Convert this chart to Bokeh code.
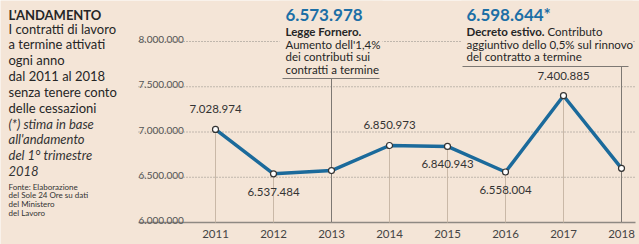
from bokeh.plotting import figure
from bokeh.models import Range1d
from bokeh.embed import file_html
from bokeh.resources import INLINE
from bokeh.core.properties import value

# ---------------- data ----------------
years = [2011, 2012, 2013, 2014, 2015, 2016, 2017, 2018]
contracts = [7028974, 6537484, 6573978, 6850973, 6840943, 6558004, 7400885, 6598644]
label_side = ["above", "below", None, "above", "below", "below", "above", None]
y_ticks = [6000000, 6500000, 7000000, 7500000, 8000000]
grid_ticks = [6500000, 7000000, 7500000, 8000000]
year_labels = [str(y) for y in years]


def it_fmt(v):
    return f"{v:,}".replace(",", ".")


value_labels = [it_fmt(v) for v in contracts]
y_tick_labels = [it_fmt(v) for v in y_ticks]

title_lines = ["L'ANDAMENTO"]
body_lines = ["I contratti di lavoro", "a termine attivati", "ogni anno",
              "dal 2011 al 2018", "senza tenere conto", "delle cessazioni"]
note_lines = ["(*) stima in base", "all'andamento", "del 1° trimestre", "2018"]
source_lines = ["Fonte: Elaborazione", "del Sole 24 Ore su dati", "del Ministero", "del Lavoro"]

ann1_head = "Legge Fornero."
ann1_lines = ["Aumento dell'1,4%", "dei contributi sui", "contratti a termine"]
ann2_head = "Decreto estivo."
ann2_first = "Contributo"
ann2_lines = ["aggiuntivo dello 0,5% sul rinnovo", "del contratto a termine"]

# ---------------- layout / styles ----------------
BG = "#f4e5d7"
BLUE = "#1b6a9b"
NUM_BLUE = "#1c6fa6"
TXT = "#262626"
FONT = "Lato"

W, H = 639, 244
SX = (621 - 215) / 7.0       # px per year
SY = 90.5 / 1e6              # px per contract
YB = y_ticks[0]
P_LEFT, P_RIGHT = 138, 635   # plotting area horizontal extent (px)


def dx(px):
    return years[0] + (px - 215) / SX


def dy(py):
    return YB + (222 - py) / SY


p = figure(width=W, height=H, output_backend="svg", toolbar_location=None,
           x_range=Range1d(dx(0), dx(W)), y_range=Range1d(dy(H), dy(0)),
           x_axis_location=None, y_axis_location=None,
           min_border=0)
p.background_fill_color = BG
p.border_fill_color = BG
p.outline_line_color = None
p.grid.visible = False


def txt(xs, ys, texts, size, style="normal", color=TXT, align="left",
        baseline="middle", x_off=0, y_off=0):
    p.text(x=xs, y=ys, text=texts, text_font=value(FONT), text_font_size=size,
           text_font_style=style, text_color=color, text_align=align,
           text_baseline=baseline, x_offset=x_off, y_offset=y_off)


# dotted gridlines
p.segment(x0=[dx(P_LEFT)] * len(grid_ticks), y0=grid_ticks,
          x1=[dx(P_RIGHT)] * len(grid_ticks), y1=grid_ticks,
          line_color="#8d8882", line_dash="1 2", line_width=1)

# masks behind annotation texts (hide gridline)
p.quad(left=[dx(279), dx(461)], right=[dx(382), dx(632)],
       top=[dy(0), dy(0)], bottom=[dy(77), dy(65)],
       fill_color=BG, line_color=None)

# x axis base line
p.segment(x0=[dx(P_LEFT)], y0=[YB], x1=[dx(P_RIGHT)], y1=[YB],
          line_color="#8e8983", line_width=1.5)

# y tick labels sitting on the gridlines
txt([dx(P_LEFT)] * len(y_ticks), y_ticks, y_tick_labels, "10px",
    color="#555555", baseline="alphabetic", y_off=-2)

# year labels
txt(years, [YB] * len(years), year_labels, "11.5px", color="#444444",
    align="center", y_off=11)

# thin vertical lines from the axis to each point
p.segment(x0=years, y0=[YB] * len(years), x1=years, y1=contracts,
          line_color="#c9b8a7", line_width=1)

# annotation leader lines
i13 = years.index(2013)
i18 = years.index(2018)
p.segment(x0=[years[i13], years[i18], dx(282), dx(462)],
          y0=[YB, YB, dy(78), dy(66)],
          x1=[years[i13], years[i18], dx(379), dx(628)],
          y1=[dy(78), dy(66), dy(78), dy(66)],
          line_color="#7d7873", line_width=1)

# main line
p.line(years, contracts, line_color=BLUE, line_width=3.5, line_join="round")
p.scatter(years, contracts, size=6, fill_color="white", line_color="#333333", line_width=1.2)

# point value labels
for yr, v, lab, side in zip(years, contracts, value_labels, label_side):
    if side is None:
        continue
    off = -20 if side == "above" else 18
    txt([yr], [v], [lab], "11.5px", color="#333333", align="center", y_off=off)

# annotation 1 (2013)
txt([dx(285)], [dy(14)], [value_labels[i13]], "17px", "bold", NUM_BLUE)
txt([dx(285)], [dy(31)], [ann1_head], "11.5px", "bold")
txt([dx(285)] * len(ann1_lines), [dy(44 + 12.3 * k) for k in range(len(ann1_lines))],
    ann1_lines, "11.5px")

# annotation 2 (2018)
txt([dx(466)], [dy(14)], [value_labels[i18] + "*"], "17px", "bold", NUM_BLUE)
txt([dx(466)], [dy(31)], [ann2_head], "11.5px", "bold")
txt([dx(547)], [dy(31)], [ann2_first], "11.5px")
txt([dx(466)] * len(ann2_lines), [dy(43.5 + 12.3 * k) for k in range(len(ann2_lines))],
    ann2_lines, "11.5px")

# left text panel
LX = dx(8)
txt([LX], [dy(14)], title_lines, "13px", "bold")
txt([LX] * len(body_lines), [dy(28 + 15.85 * k) for k in range(len(body_lines))],
    body_lines, "13px")
txt([LX] * len(note_lines), [dy(28 + 15.85 * (k + 6)) for k in range(len(note_lines))],
    note_lines, "13px", "italic", "#333333")
txt([LX] * len(source_lines), [dy(186 + 8.8 * k) for k in range(len(source_lines))],
    source_lines, "8px", "normal", "#333333")

html = file_html(p, INLINE)
html = html.replace("<body>", '<body style="background-color:%s;">' % BG, 1)
open("out.html", "w").write(html)
